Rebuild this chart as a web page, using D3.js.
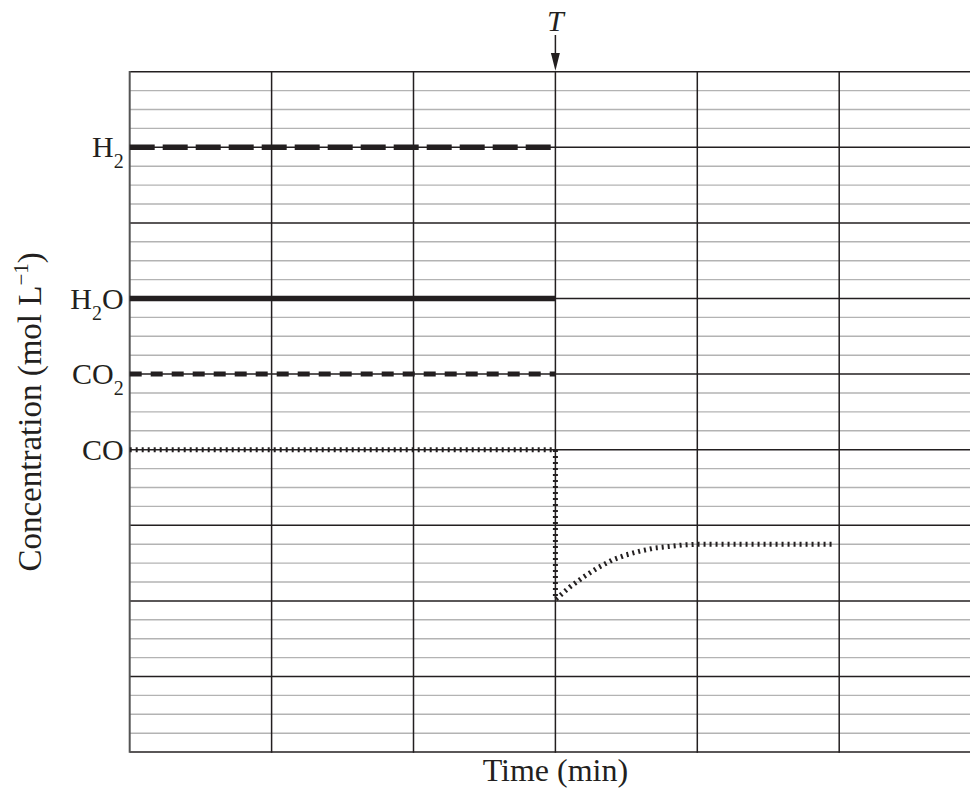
<!DOCTYPE html>
<html>
<head>
<meta charset="utf-8">
<script src="https://cdn.jsdelivr.net/npm/d3@7"></script>
<style>
  html, body { margin: 0; padding: 0; background: #fff; }
  #chart { width: 970px; height: 789px; }
  text { font-family: "Liberation Serif", "DejaVu Serif", serif; fill: #231f20; }
</style>
</head>
<body>
<div id="chart"></div>
<script>
// time axis (arbitrary minutes, one per major cell) and concentration levels
const timeMajor = [0, 1, 2, 3, 4, 5, 6];
const concMajor = [0, 1, 2, 3, 4, 5, 6, 7, 8, 9];
const concMinorStep = 0.25;

// the moment T when the system is disturbed
const disturbTime = 3;

// species, their equilibrium levels before T
const speciesNames = ['H2', 'H2O', 'CO2', 'CO'];
const speciesLevels = [8, 6, 5, 4];

// concentration series
const h2Series = [[0, 8], [3, 8]];
const h2oSeries = [[0, 6], [3, 6]];
const co2Series = [[0, 5], [3, 5]];
const coSeries = [
   [0, 4], [3, 4], [3, 2.02], [3.1, 2.18], [3.2, 2.32], [3.3, 2.44], [3.4, 2.54],
   [3.5, 2.61], [3.6, 2.66], [3.7, 2.7], [3.8, 2.72], [3.9, 2.74], [4.0, 2.75], [4.97, 2.75]
];

(function () {
   const width = 970;
   const height = 789;
   const margin = { left: 129.7, top: 71.7 };
   const plotW = 851.4;   // six cells, runs off the right edge like the original
   const plotH = 680.4;

   const svg = d3.select('#chart')
      .append('svg')
      .attr('width', width)
      .attr('height', height)
      .style('background', '#fff');

   const x = d3.scaleLinear().domain([0, 6]).range([margin.left, margin.left + plotW]);
   const y = d3.scaleLinear().domain([0, 9]).range([margin.top + plotH, margin.top]);

   const grid = svg.append('g');

   // minor horizontal lines
   const minor = d3.range(0, 9 + 1e-9, concMinorStep).filter(v => Math.abs(v - Math.round(v)) > 1e-6);
   grid.selectAll('line.minor')
      .data(minor)
      .join('line')
      .attr('class', 'minor')
      .attr('x1', x(0)).attr('x2', x(6))
      .attr('y1', d => y(d)).attr('y2', d => y(d))
      .attr('stroke', '#b3b3b3')
      .attr('stroke-width', 1.4);

   // major horizontal lines
   grid.selectAll('line.hmajor')
      .data(concMajor)
      .join('line')
      .attr('class', 'hmajor')
      .attr('x1', x(0)).attr('x2', x(6))
      .attr('y1', d => y(d)).attr('y2', d => y(d))
      .attr('stroke', '#231f20')
      .attr('stroke-width', 1.5);

   // vertical lines
   grid.selectAll('line.vmajor')
      .data(timeMajor)
      .join('line')
      .attr('class', 'vmajor')
      .attr('x1', d => x(d)).attr('x2', d => x(d))
      .attr('y1', y(0) + 0.75).attr('y2', y(9) - 0.75)
      .attr('stroke', d => d === 0 ? '#555' : '#231f20')
      .attr('stroke-width', d => d === 0 ? 2 : 1.5);

   const line = d3.line()
      .x(d => x(d[0]))
      .y(d => y(d[1]));

   // draw the four species
   const series = [
      { data: h2Series, w: 5.5, dash: '25,8' },
      { data: h2oSeries, w: 5.5, dash: null },
      { data: co2Series, w: 5, dash: '12,9' },
      { data: coSeries, w: 5, dash: '2,4' }
   ];

   svg.append('g')
      .selectAll('path')
      .data(series)
      .join('path')
      .attr('d', d => line(d.data))
      .attr('fill', 'none')
      .attr('stroke', '#231f20')
      .attr('stroke-width', d => d.w)
      .attr('stroke-dasharray', d => d.dash);

   // species labels with subscript digits
   const labels = svg.append('g');
   speciesNames.forEach((name, i) => {
      const t = labels.append('text')
         .attr('x', x(0) - 6)
         .attr('y', y(speciesLevels[i]) + 10)
         .attr('text-anchor', 'end')
         .style('font-size', '30px');
      const parts = name.match(/[A-Z]+|\d+/g);
      let down = false;
      parts.forEach(p => {
         const isSub = /\d/.test(p);
         const ts = t.append('tspan').text(p);
         if (isSub) {
            ts.attr('dy', 11).style('font-size', '20px');
            down = true;
         } else if (down) {
            ts.attr('dy', -11);
            down = false;
         }
      });
   });

   // T marker with arrow
   const tx = x(disturbTime);
   svg.append('text')
      .attr('x', tx)
      .attr('y', 31)
      .attr('text-anchor', 'middle')
      .style('font-size', '30px')
      .style('font-style', 'italic')
      .text('T');

   svg.append('line')
      .attr('x1', tx).attr('x2', tx)
      .attr('y1', 35).attr('y2', 56)
      .attr('stroke', '#231f20')
      .attr('stroke-width', 1.5);

   svg.append('path')
      .attr('d', `M${tx - 4.5},53 L${tx + 4.5},53 L${tx},${margin.top - 1} Z`)
      .attr('fill', '#231f20');

   // axis titles
   svg.append('text')
      .attr('x', x(3))
      .attr('y', 781)
      .attr('text-anchor', 'middle')
      .style('font-size', '32px')
      .text('Time (min)');

   const yTitle = svg.append('text')
      .attr('transform', `translate(41, ${y(4.5)}) rotate(-90)`)
      .attr('text-anchor', 'middle')
      .style('font-size', '33px');
   yTitle.append('tspan').text('Concentration (mol L');
   yTitle.append('tspan').attr('dy', -13).style('font-size', '21px').text('\u22121');
   yTitle.append('tspan').attr('dy', 13).text(')');
})();
</script>
</body>
</html>
